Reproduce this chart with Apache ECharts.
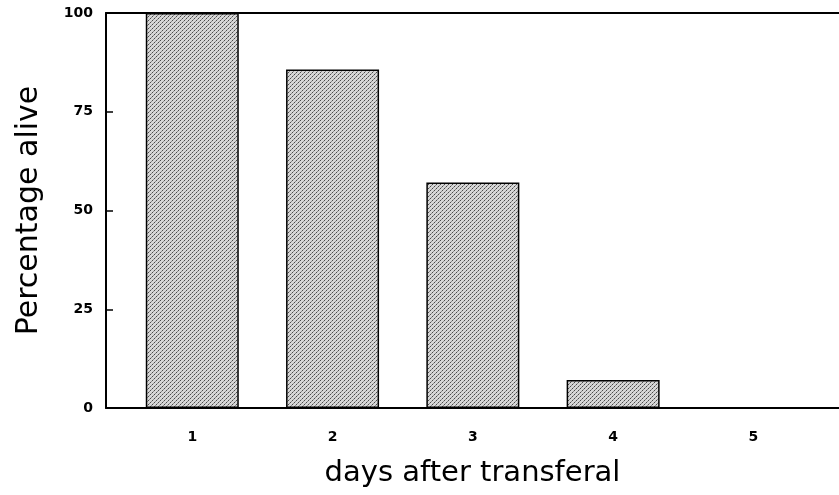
<!DOCTYPE html>
<html>
<head>
<meta charset="utf-8">
<script src="https://cdn.jsdelivr.net/npm/echarts@6/dist/echarts.min.js"></script>
<style>html,body{margin:0;padding:0;background:#fff}#c{width:839px;height:495px}</style>
</head>
<body>
<div id="c"></div>
<script>
var days = [1, 2, 3, 4, 5];
var percentAlive = [100, 85.7, 57.1, 7.1, 0];
var yTicks = [0, 25, 50, 75, 100];

function makePattern() {
  var c = document.createElement('canvas');
  c.width = 4; c.height = 4;
  var g = c.getContext('2d');
  g.fillStyle = '#d6d6d6';
  g.fillRect(0, 0, 4, 4);
  g.fillStyle = '#4a4a4a';
  g.fillRect(0, 0, 1, 1);
  g.fillRect(2, 2, 1, 1);
  g.fillStyle = '#8c8c8c';
  g.fillRect(1, 3, 1, 1);
  g.fillRect(3, 1, 1, 1);
  return c;
}

var chart = echarts.init(document.getElementById('c'), null, {renderer: 'canvas'});
var font = '"DejaVu Sans", "Liberation Sans", Arial, sans-serif';
chart.setOption({
  animation: false,
  grid: {left: 106, right: 0, top: 13, bottom: 87},
  xAxis: [{
    type: 'value', min: 0.385, max: 5.61, interval: 1,
    position: 'bottom',
    name: 'days after transferal', nameLocation: 'middle', nameGap: 51,
    nameTextStyle: {fontFamily: font, fontSize: 29, color: '#000'},
    axisLine: {show: true, lineStyle: {color: '#000', width: 2}},
    axisTick: {show: false},
    splitLine: {show: false},
    axisLabel: {
      fontFamily: font, fontSize: 14, fontWeight: 600, color: '#000', margin: 22,
      customValues: days,
      formatter: function (v) { return String(v); }
    }
  }, {
    type: 'value', min: 0.385, max: 5.61, position: 'top',
    axisLine: {show: true, lineStyle: {color: '#000', width: 2}},
    axisTick: {show: false}, axisLabel: {show: false}, splitLine: {show: false}
  }],
  yAxis: {
    type: 'value', min: 0, max: 100, interval: 25,
    name: 'Percentage alive', nameLocation: 'middle', nameGap: 62,
    nameTextStyle: {fontFamily: font, fontSize: 30, color: '#000'},
    axisLine: {show: true, lineStyle: {color: '#000', width: 2}},
    axisTick: {show: true, inside: true, length: 7, lineStyle: {color: '#000', width: 1.5}},
    splitLine: {show: false},
    axisLabel: {fontFamily: font, fontSize: 14, fontWeight: 600, color: '#000', margin: 13,
      customValues: yTicks}
  },
  series: [{
    type: 'bar',
    xAxisIndex: 0,
    data: days.map(function (d, i) { return [d, percentAlive[i]]; }),
    barWidth: 93,
    itemStyle: {
      color: {image: makePattern(), repeat: 'repeat'},
      borderColor: '#000', borderWidth: 1.5
    }
  }]
});
</script>
</body>
</html>
